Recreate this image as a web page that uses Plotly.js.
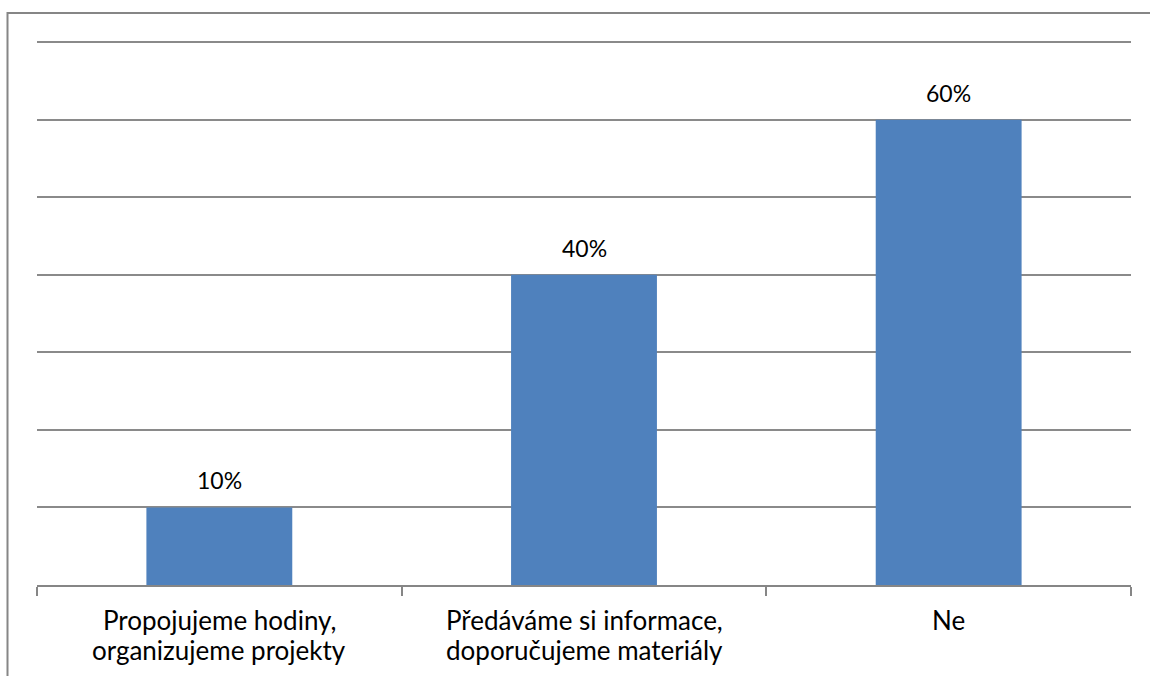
<!DOCTYPE html>
<html>
<head>
<meta charset="utf-8">
<script src="https://cdn.plot.ly/plotly-3.0.1.min.js"></script>
<style>html,body{margin:0;padding:0;background:#fff;}#chart{width:1150px;height:676px;}</style>
</head>
<body>
<div id="chart"></div>
<script>
const categories = ["Propojujeme hodiny, organizujeme projekty", "Předáváme si informace, doporučujeme materiály", "Ne"];
const labelLine1 = ["Propojujeme hodiny,", "Předáváme si informace,", "Ne"];
const labelLine2 = ["organizujeme projekty", "doporučujeme materiály", ""];
const values = [10, 40, 60];
const valueLabels = ["10%", "40%", "60%"];

const W = 1150, H = 676;
const ml = 37, mr = 19, mt = 39, mb = 91;
const pw = W - ml - mr, ph = H - mt - mb;
const px = v => (v - ml) / pw;
const py = v => (H - mb - v) / ph;
const FONT = 'Lato, sans-serif';

const trace = {
  type: 'bar',
  x: categories,
  y: values,
  marker: {color: '#4F81BD'},
  hoverinfo: 'none'
};

const annotations = [];
categories.forEach((c, i) => {
  annotations.push({
    x: c, y: values[i], xref: 'x', yref: 'y',
    text: valueLabels[i], showarrow: false,
    yanchor: 'bottom', yshift: 11,
    font: {family: FONT, size: 23, color: '#000'}
  });
  annotations.push({
    x: c, y: 0, xref: 'x', yref: 'y',
    text: labelLine1[i], showarrow: false,
    yanchor: 'middle', yshift: -35,
    font: {family: FONT, size: 26, color: '#000'}
  });
  if (labelLine2[i]) annotations.push({
    x: c, y: 0, xref: 'x', yref: 'y',
    text: labelLine2[i], showarrow: false,
    yanchor: 'middle', yshift: -65,
    font: {family: FONT, size: 26, color: '#000'}
  });
});

const layout = {
  width: W, height: H,
  margin: {l: ml, r: mr, t: mt, b: mb, pad: 0},
  paper_bgcolor: '#fff', plot_bgcolor: '#fff',
  bargap: 0.6,
  showlegend: false,
  font: {family: FONT, size: 21, color: '#000'},
  xaxis: {
    type: 'category',
    showline: true, linecolor: '#868686', linewidth: 2,
    ticks: 'outside', tickson: 'boundaries', ticklen: 9, tickcolor: '#868686', tickwidth: 2,
    showgrid: false, zeroline: false, showticklabels: false
  },
  yaxis: {
    range: [0, 70.4], tickvals: [10, 20, 30, 40, 50, 60, 70],
    showgrid: true, gridcolor: '#8a8a8a', gridwidth: 2,
    showticklabels: false, ticks: '', showline: false, zeroline: false
  },
  annotations: annotations,
  shapes: [{
    type: 'rect', xref: 'paper', yref: 'paper',
    x0: px(7.5), x1: px(1160), y0: py(690), y1: py(13),
    line: {color: '#868686', width: 2}, fillcolor: 'rgba(0,0,0,0)', layer: 'below'
  }]
};

Plotly.newPlot('chart', [trace], layout, {displayModeBar: false, staticPlot: true});
</script>
</body>
</html>
